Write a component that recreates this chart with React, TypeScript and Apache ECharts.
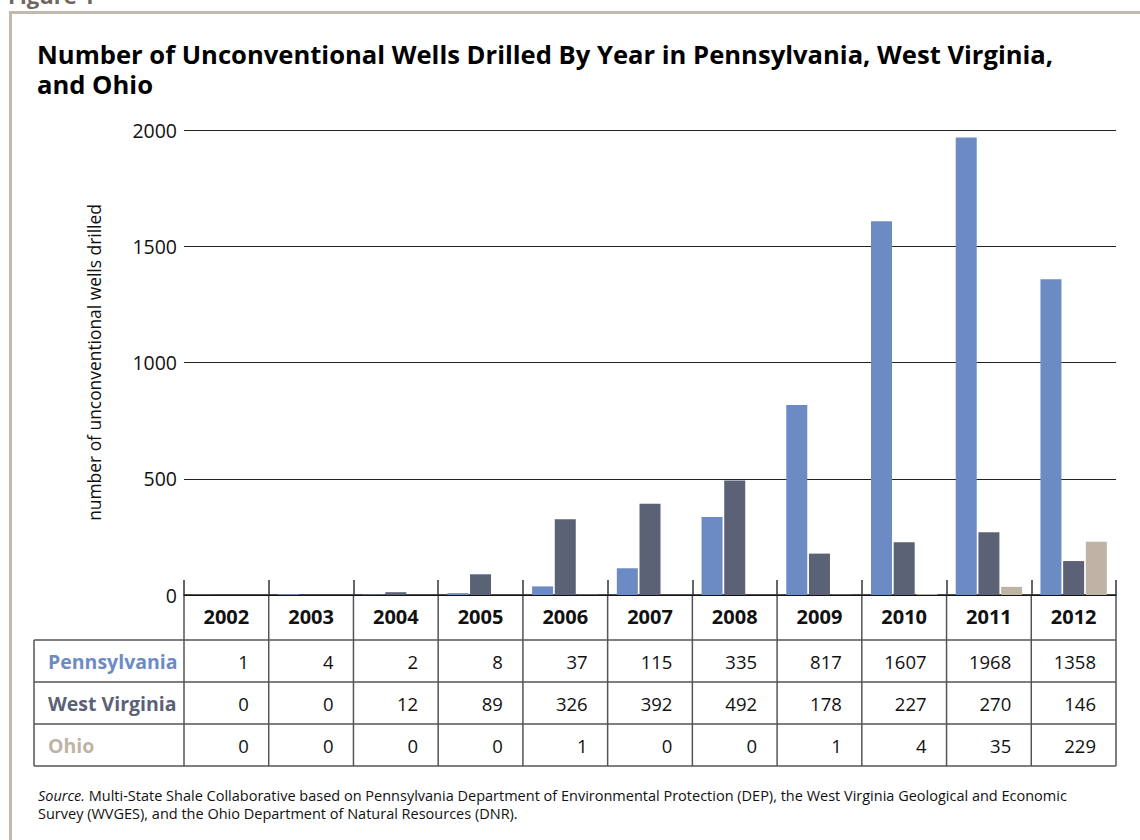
import React, { useEffect, useRef } from "react";
import * as echarts from "echarts";

const years = ["2002", "2003", "2004", "2005", "2006", "2007", "2008", "2009", "2010", "2011", "2012"];
const pennsylvania = [1, 4, 2, 8, 37, 115, 335, 817, 1607, 1968, 1358];
const westVirginia = [0, 0, 12, 89, 326, 392, 492, 178, 227, 270, 146];
const ohio = [0, 0, 0, 0, 1, 0, 0, 1, 4, 35, 229];
const yTicks = [0, 500, 1000, 1500, 2000];
const stateNames = ["Pennsylvania", "West Virginia", "Ohio"];
const stateColors = ["#6c8bc4", "#5c6276", "#bfb3a5"];

const FONT = "'Open Sans', 'Noto Sans', sans-serif";

export default function App() {
  const ref = useRef<HTMLDivElement>(null);
  useEffect(() => {
    if (!ref.current) return;
    const chart = echarts.init(ref.current, null, { renderer: "svg" });
    const gridTop = 130;
    const gridBottomY = 595;
    const option: any = {
      animation: false,
      backgroundColor: "#ffffff",
      textStyle: { fontFamily: FONT },
      grid: { left: 184, right: 24, top: gridTop, bottom: 840 - gridBottomY, containLabel: false },
      xAxis: {
        type: "category",
        data: years,
        axisLine: { show: true, lineStyle: { color: "#111", width: 1.5 } },
        axisTick: { show: true, inside: true, length: 15, lineStyle: { color: "#333", width: 1.5 } },
        axisLabel: { fontFamily: FONT, fontWeight: "bold", fontSize: 20, color: "#111", margin: 11 },
      },
      yAxis: {
        type: "value",
        min: 0,
        max: 2000,
        interval: 500,
        name: "number of unconventional wells drilled",
        nameLocation: "middle",
        nameGap: 82,
        nameTextStyle: { fontFamily: FONT, fontSize: 17.4, color: "#111" },
        axisLine: { show: false },
        axisTick: { show: false },
        axisLabel: {
          fontFamily: FONT,
          fontSize: 19.5,
          color: "#111",
          margin: 7,
          formatter: (v: number) => (yTicks.includes(v) ? String(v) : ""),
        },
        splitLine: { show: true, lineStyle: { color: "#222", width: 1 } },
      },
      series: [
        { name: stateNames[0], type: "bar", data: pennsylvania, barWidth: 21, barGap: "8%", itemStyle: { color: stateColors[0] } },
        { name: stateNames[1], type: "bar", data: westVirginia, barWidth: 21, barGap: "8%", itemStyle: { color: stateColors[1] } },
        { name: stateNames[2], type: "bar", data: ohio, barWidth: 21, barGap: "8%", itemStyle: { color: stateColors[2] } },
      ],
    };
    chart.setOption(option);

    // Build the data table under the chart from the same arrays
    const xCenters = years.map((y) => chart.convertToPixel({ xAxisIndex: 0 }, y) as number);
    const step = xCenters.length > 1 ? xCenters[1] - xCenters[0] : 85;
    const leftEdge = xCenters[0] - step / 2;
    const rightEdge = xCenters[xCenters.length - 1] + step / 2;
    const rowTop = 640;
    const rowH = 42;
    const tableLeft = 34;
    const lineColor = "#555";
    const rows = [pennsylvania, westVirginia, ohio];

    const g: any[] = [];
    // Frame + partial figure caption (cut off at the top, as in the source page)
    g.push({ type: "text", left: 8, top: -16, style: { text: "Figure 1", font: `bold 22px ${FONT}`, fill: "#6e6660" } });
    g.push({ type: "line", shape: { x1: 10, y1: 12.5, x2: 1140, y2: 12.5 }, style: { stroke: "#c3b8ad", lineWidth: 3 } });
    g.push({ type: "line", shape: { x1: 10.5, y1: 11, x2: 10.5, y2: 840 }, style: { stroke: "#c3b8ad", lineWidth: 3 } });
    // Title
    g.push({
      type: "text",
      left: 37,
      top: 39,
      style: {
        text: "Number of Unconventional Wells Drilled By Year in Pennsylvania, West Virginia,\nand Ohio",
        font: `bold 25.6px ${FONT}`,
        lineHeight: 30,
        fill: "#000",
      },
    });
    // vertical table lines
    for (let i = 0; i <= years.length; i++) {
      const x = leftEdge + i * step;
      g.push({ type: "line", shape: { x1: x, y1: gridBottomY, x2: x, y2: rowTop + rowH * 3 }, style: { stroke: lineColor, lineWidth: 1.5 } });
    }
    g.push({ type: "line", shape: { x1: tableLeft, y1: rowTop, x2: tableLeft, y2: rowTop + rowH * 3 }, style: { stroke: lineColor, lineWidth: 1.5 } });
    for (let r = 0; r <= 3; r++) {
      const y = rowTop + r * rowH;
      g.push({ type: "line", shape: { x1: tableLeft, y1: y, x2: rightEdge, y2: y }, style: { stroke: lineColor, lineWidth: 1.5 } });
    }
    rows.forEach((vals, r) => {
      const cy = rowTop + r * rowH + rowH / 2;
      g.push({
        type: "text",
        x: 48,
        y: cy,
        style: { text: stateNames[r], font: `bold 19.5px ${FONT}`, fill: stateColors[r], textAlign: "left", textVerticalAlign: "middle" },
      });
      vals.forEach((v, i) => {
        g.push({
          type: "text",
          x: xCenters[i] + step / 2 - 20,
          y: cy,
          style: { text: String(v), font: `18.5px ${FONT}`, fill: "#111", textAlign: "right", textVerticalAlign: "middle" },
        });
      });
    });
    // Source note
    g.push({
      type: "text",
      left: 38,
      top: 788,
      style: {
        rich: {
          i: { fontStyle: "italic", fontSize: 14.5, fontFamily: FONT, fill: "#111", lineHeight: 18 },
          n: { fontSize: 14.5, fontFamily: FONT, fill: "#111", lineHeight: 18 },
        },
        text:
          "{i|Source.}{n| Multi-State Shale Collaborative based on Pennsylvania Department of Environmental Protection (DEP), the West Virginia Geological and Economic}\n{n|Survey (WVGES), and the Ohio Department of Natural Resources (DNR).}",
      },
    });
    chart.setOption({ graphic: g });
    return () => chart.dispose();
  }, []);
  return <div ref={ref} style={{ position: "fixed", left: 0, top: 0, width: 1140, height: 840 }} />;
}
